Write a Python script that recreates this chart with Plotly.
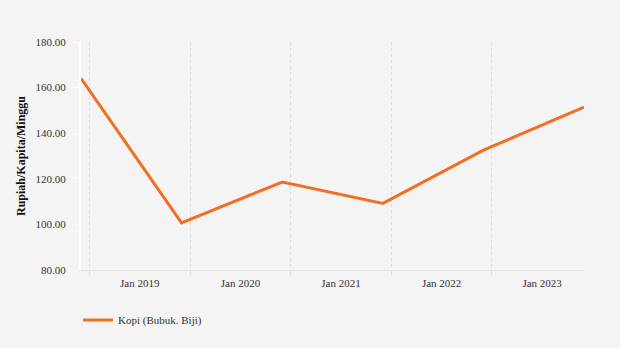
import plotly.graph_objects as go

# Annual coffee expenditure per capita per week
dates = ["2018-12-01", "2019-12-01", "2020-12-01", "2021-12-01", "2022-12-01", "2023-12-01"]
values = [164.1, 100.7, 118.6, 109.2, 132.6, 151.4]
series_name = "Kopi (Bubuk. Biji)"
y_title = "Rupiah/Kapita/Minggu"

# Year boundaries (gridlines) and year-label positions (mid-year)
year_starts = ["2019-01-01", "2020-01-01", "2021-01-01", "2022-01-01", "2023-01-01"]
year_mids = ["2019-07-02", "2020-07-02", "2021-07-02", "2022-07-02", "2023-07-02"]
year_labels = ["Jan 2019", "Jan 2020", "Jan 2021", "Jan 2022", "Jan 2023"]

FONT = '"Liberation Serif", "Times New Roman", serif'
BG = "#f4f4f4"

fig = go.Figure()
fig.add_trace(go.Scatter(
    x=dates, y=values, mode="lines", name=series_name,
    line=dict(color="#f26f21", width=3),
))
# invisible helper trace so the label axis is active
fig.add_trace(go.Scatter(
    x=[dates[0], dates[-1]], y=[None, None], xaxis="x2", yaxis="y",
    mode="lines", showlegend=False, hoverinfo="skip",
))

fig.update_layout(
    width=620, height=348,
    paper_bgcolor=BG, plot_bgcolor=BG,
    margin=dict(l=81, r=36, t=42, b=78),
    font=dict(family=FONT, size=11, color="#333333"),
    showlegend=True,
    legend=dict(
        orientation="h", x=78 / 620, xref="container", xanchor="left",
        y=1 - 320 / 348, yref="container", yanchor="middle",
        font=dict(family=FONT, size=11, color="#333333"),
        bgcolor="rgba(0,0,0,0)",
    ),
    xaxis=dict(
        type="date", range=[dates[0], dates[-1]],
        tickmode="array", tickvals=year_starts, showticklabels=False,
        showgrid=True, gridcolor="#dcdcdc", griddash="dot", gridwidth=1,
        showline=True, linecolor="#e6e6e6", linewidth=1,
        ticks="outside", ticklen=4, tickcolor="#e0e0e0",
        zeroline=False,
    ),
    xaxis2=dict(
        type="date", range=[dates[0], dates[-1]], overlaying="x", side="bottom",
        anchor="y",
        tickmode="array", tickvals=year_mids, ticktext=year_labels,
        showgrid=False, showline=False, ticks="", zeroline=False,
        ticklabelstandoff=5,
        tickfont=dict(family=FONT, size=11, color="#333333"),
    ),
    yaxis=dict(
        range=[80, 180], dtick=20, tickformat=".2f",
        showgrid=False, zeroline=False,
        showline=True, linecolor="#ffffff", linewidth=2,
        ticks="outside", ticklen=5, tickcolor="#ffffff",
        ticklabelstandoff=6,
        title=dict(text=f"<b>{y_title}</b>", font=dict(family=FONT, size=12, color="#111111"), standoff=7),
    ),
)

fig.write_html("out.html")
